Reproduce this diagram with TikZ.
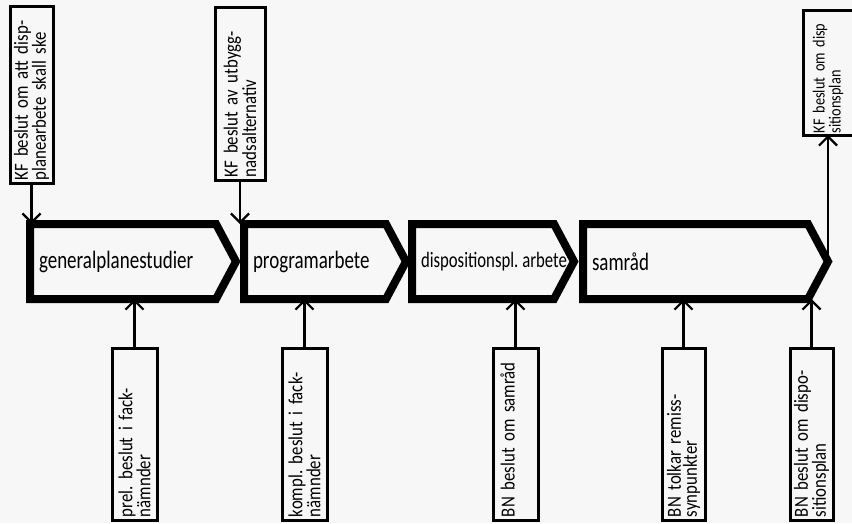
\documentclass[tikz,border=0pt]{standalone}
\usepackage{fontspec}
\newfontfamily\handfont{Carlito}[FakeStretch=0.76]
\newfontfamily\boxfont{Carlito}[FakeStretch=0.84]
\usepackage{tikz}
\usetikzlibrary{arrows.meta}

\begin{document}
\begin{tikzpicture}[
  x=1pt, y=-1pt,
  >={Straight Barb[length=9pt, width=18pt]},
  stage/.style={anchor=west, outer sep=0pt, inner xsep=9pt, align=left,
                minimum height=75pt, font=\handfont\fontsize{25}{27}\selectfont\frenchspacing},
  chev/.style={line width=8pt, line join=miter},
  beslut/.style={draw, line width=3pt, rotate=90, outer sep=0pt,
                 inner xsep=3pt, inner ysep=2pt, align=left,
                 minimum width=172pt, text width=166pt, minimum height=45pt,
                 font=\boxfont\fontsize{20}{16}\selectfont\frenchspacing},
  flow/.style={->, line width=2.2pt}
]
\useasboundingbox (0,0) rectangle (852,523);
\fill[black!3] (0,0) rectangle (852,523);

% the four stages
\node[stage, minimum width=186pt, text width=168pt] (gps)  at (30,261.5)  {generalplanestudier};
\node[stage, minimum width=142pt, text width=124pt] (prog) at (244,261.5) {programarbete};
\node[stage, minimum width=142pt, text width=124pt,
      font=\handfont\fontsize{22}{24}\selectfont] (disp) at (412,261.5) {\mbox{dispositionspl.\hspace{4pt}arbete}};
\node[stage, minimum width=225pt, text width=207pt] (samr) at (583,261.5) {samråd};

\foreach \s in {gps,prog,disp,samr} {
  \coordinate (\s-tip) at ([xshift=20pt]\s.east);
  \draw[chev] (\s.north west) -- (\s.north east) -- (\s-tip)
              -- (\s.south east) -- (\s.south west) -- cycle;
}

% decisions above the line (KF)
\node[beslut, minimum width=177pt, text width=171pt, minimum height=43pt] (kf1) at (31.5,94.5)
  {KF beslut om att disp-\\planearbete skall ske};
\node[beslut, minimum width=173pt, text width=167pt, minimum height=50pt] (kf2) at (240,93.5)
  {KF beslut av utbygg-\\nadsalternativ};
\node[beslut, minimum width=125pt, text width=121pt, minimum height=50pt, inner xsep=2pt,
      font=\boxfont\fontsize{17}{16}\selectfont] (kf3) at (828,72.5)
  {\mbox{KF beslut om disp}\\sitionsplan};

% decisions below the line (fackn\"amnder, BN)
\node[beslut] (bn1) at (134.5,434) {prel. beslut i fack-\\nämnder};
\node[beslut] (bn2) at (304.5,434) {kompl. beslut i fack-\\nämnder};
\node[beslut] (bn3) at (515.5,434) {BN beslut om samråd\\\mbox{}};
\node[beslut, minimum height=43pt] (bn4) at (683.5,434) {BN tolkar remiss-\\synpunkter};
\node[beslut, minimum height=43pt] (bn5) at (811.5,434) {BN beslut om dispo-\\sitionsplan};

\draw[flow] (kf1.west) -- (kf1.west |- gps.north);
\draw[flow] (kf2.west) -- (kf2.west |- prog.north);
\draw[flow] (samr-tip) -- (samr-tip |- kf3.west);

\draw[flow] (bn1.east) -- (bn1.east |- gps.south);
\draw[flow] (bn2.east) -- (bn2.east |- prog.south);
\draw[flow] (bn3.east) -- (bn3.east |- disp.south);
\draw[flow] (bn4.east) -- (bn4.east |- samr.south);
\draw[flow] (bn5.east) -- (bn5.east |- samr.south);
\end{tikzpicture}
\end{document}
